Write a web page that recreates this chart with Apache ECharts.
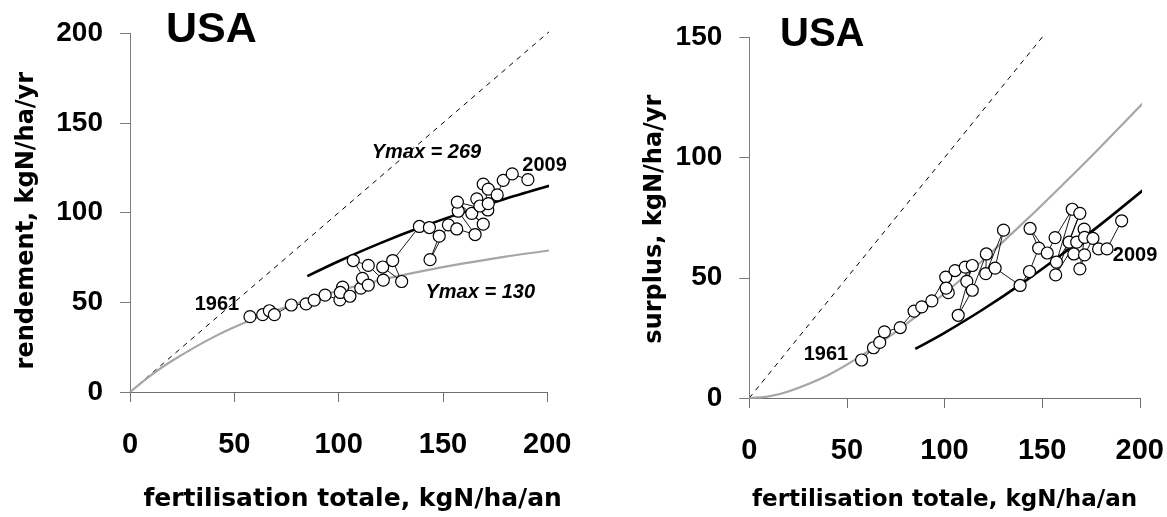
<!DOCTYPE html>
<html>
<head>
<meta charset="utf-8">
<script src="https://cdn.jsdelivr.net/npm/echarts@6/dist/echarts.min.js"></script>
<style>
  html, body { margin: 0; padding: 0; background: #fff; }
  #chart { width: 1167px; height: 517px; }
</style>
</head>
<body>
<div id="chart"></div>
<script>
// Annual nitrogen balance, USA: total fertilisation, crop yield and surplus (kgN/ha/yr)
const fert = [57.5, 63.6, 66.8, 69.2, 77.3, 84.4, 88.3, 93.5, 100.6, 101.9, 100.8, 105.4,
  110.6, 111.4, 114.2, 107.0, 114.2, 121.4, 121.1, 130.2, 125.9, 138.7, 143.5, 148.2,
  143.8, 152.6, 156.6, 165.4, 157.3, 163.8, 169.3, 156.9, 171.5, 166.2, 167.7, 171.7,
  169.3, 171.7, 176.0, 178.9, 183.2, 190.7];
const yieldN = [42.0, 43.1, 45.3, 43.1, 48.5, 49.1, 51.2, 54.0, 51.4, 58.5, 55.5, 53.4,
  57.9, 63.4, 59.6, 73.3, 70.6, 62.4, 69.7, 61.6, 73.3, 92.3, 91.7, 86.9,
  73.8, 93.2, 90.9, 87.8, 100.8, 99.6, 93.6, 105.9, 101.5, 107.7, 103.7, 105.0,
  115.9, 113.1, 109.9, 118.0, 121.6, 118.4];
const surplus = [15.8, 20.9, 23.1, 27.5, 29.3, 36.1, 37.9, 40.4, 50.3, 43.8, 45.7, 53.0,
  54.4, 48.5, 55.1, 34.4, 44.8, 59.9, 51.7, 69.8, 54.0, 46.8, 52.6, 62.3,
  70.5, 60.3, 66.7, 78.5, 56.5, 64.8, 76.8, 51.2, 70.2, 59.9, 64.8, 66.8,
  53.7, 59.5, 66.4, 62.0, 62.0, 73.7];
const firstYear = '1961';
const lastYear = '2009';

// Response curves for Ymax = 130 (grey) and Ymax = 269 (black)
const fitF130 = [0, 10, 20, 40, 60, 80, 100, 120, 140, 160, 180, 204];
const yieldFit130 = [0, 9.3, 17.3, 30.6, 41.1, 49.5, 56.5, 62.4, 67.4, 71.7, 75.5, 79.4];
const surplusFit130 = [0, 0.7, 2.7, 9.4, 19.0, 30.5, 43.5, 57.6, 72.6, 88.3, 104.5, 124.6];
const fitF269 = [85, 100, 120, 140, 160, 180, 204];
const yieldFit269 = [64.6, 72.9, 83.0, 92.1, 100.3, 107.8, 116.0];
const surplusFit269 = [20.4, 27.1, 37.0, 47.9, 59.7, 72.2, 88.0];

// 1:1 reference line extents
const diagYield = [0, 201];
const diagSurplus = [0, 151];

const ymaxLow = 'Ymax = 130';
const ymaxHigh = 'Ymax = 269';
const country = 'USA';
const xTitle = 'fertilisation totale, kgN/ha/an';
const yTitleLeft = 'rendement, kgN/ha/yr';
const yTitleRight = 'surplus, kgN/ha/yr';

const FONT = "'Liberation Sans', Arial, Helvetica, sans-serif";
const WIDE = "'DejaVu Sans', Verdana, sans-serif";
const pairs = (xs, ys) => xs.map((x, i) => [x, ys[i]]);

function xAxisCfg(gridIndex, gap, size, shift) {
  return {
    gridIndex, type: 'value', min: 0, max: 200, interval: 50,
    axisLine: { show: true, onZero: false, lineStyle: { color: '#6e6e6e', width: 1 } },
    axisTick: { show: true, inside: false, length: 10, lineStyle: { color: '#6e6e6e' } },
    splitLine: { show: false },
    axisLabel: { color: '#000', fontFamily: FONT, fontWeight: 'bold', fontSize: 29, margin: 38 },
    name: xTitle, nameLocation: 'middle', nameGap: gap,
    nameTextStyle: { color: '#000', fontFamily: WIDE, fontWeight: 'bold', fontSize: size,
      padding: [0, 0, 0, shift] }
  };
}
function yAxisCfg(gridIndex, max, name, gap, shift) {
  return {
    gridIndex, type: 'value', min: 0, max, interval: 50,
    axisLine: { show: true, onZero: false, lineStyle: { color: '#7a7a7a', width: 1 } },
    axisTick: { show: true, inside: false, length: 10, lineStyle: { color: '#7a7a7a' } },
    splitLine: { show: false },
    axisLabel: { color: '#000', fontFamily: FONT, fontWeight: 'bold', fontSize: 28, margin: 27 },
    name, nameLocation: 'middle', nameRotate: 90, nameGap: gap,
    nameTextStyle: { color: '#000', fontFamily: WIDE, fontWeight: 'bold', fontSize: 24,
      padding: [0, shift, 0, 0] }
  };
}

function panelSeries(idx, diag, fitLow, fitHigh, values, notes) {
  const common = { xAxisIndex: idx, yAxisIndex: idx, animation: false, silent: true };
  return [
    Object.assign({}, common, {
      type: 'line', data: pairs(diag, diag), symbol: 'none', clip: false,
      lineStyle: { color: '#000', width: 1, type: [5, 5] }
    }),
    Object.assign({}, common, {
      type: 'line', data: pairs(fitF130, fitLow), symbol: 'none', smooth: 0.3, clip: false,
      lineStyle: { color: '#a6a6a6', width: 2.2 }
    }),
    Object.assign({}, common, {
      type: 'line', data: pairs(fitF269, fitHigh), symbol: 'none', smooth: 0.3, clip: false,
      lineStyle: { color: '#000', width: 2.6 }
    }),
    Object.assign({}, common, {
      type: 'line', data: pairs(fert, values), symbol: 'circle', symbolSize: 12, clip: false,
      showAllSymbol: true,
      lineStyle: { color: '#000', width: 0.9 },
      itemStyle: { color: '#fff', borderColor: '#000', borderWidth: 1.2 }
    }),
    Object.assign({}, common, {
      type: 'scatter', symbol: 'circle', symbolSize: 1, clip: false,
      itemStyle: { color: 'rgba(255,255,255,0)' },
      data: notes.map(n => ({ value: n.at, label: { formatter: n.text, fontStyle: n.italic ? 'italic' : 'normal' } })),
      label: {
        show: true, position: [0, 0], align: 'center', verticalAlign: 'middle',
        color: '#000', opacity: 1, textBorderWidth: 0,
        fontFamily: FONT, fontWeight: 'bold', fontSize: 20
      }
    })
  ];
}

const chart = echarts.init(document.getElementById('chart'), null, { renderer: 'canvas' });
chart.setOption({
  backgroundColor: '#fff',
  animation: false,
  title: [
    { text: country, left: 161, top: 4, textStyle: { fontFamily: FONT, fontWeight: 'bold', fontSize: 43, color: '#000' } },
    { text: country, left: 775, top: 10, textStyle: { fontFamily: FONT, fontWeight: 'bold', fontSize: 40, color: '#000' } }
  ],
  grid: [
    { left: 130, top: 33.3, width: 417.3, height: 368.4 },
    { left: 749.3, top: 37.3, width: 391.7, height: 362.7 }
  ],
  xAxis: [xAxisCfg(0, 95, 25, 28), xAxisCfg(1, 91, 23, 0)],
  yAxis: [yAxisCfg(0, 200, yTitleLeft, 91, 16), yAxisCfg(1, 150, yTitleRight, 83, 3)],
  series: [].concat(
    panelSeries(0, diagYield, yieldFit130, yieldFit269, yieldN, [
      { text: firstYear, at: [41.9, 48.4] },
      { text: lastYear, at: [198.9, 126.2] },
      { text: ymaxHigh, at: [142.3, 133.2], italic: true },
      { text: ymaxLow, at: [168.1, 55.0], italic: true }
    ]),
    panelSeries(1, diagSurplus, surplusFit130, surplusFit269, surplus, [
      { text: firstYear, at: [39.5, 17.9] },
      { text: lastYear, at: [197.8, 58.9] }
    ])
  )
});
</script>
</body>
</html>
